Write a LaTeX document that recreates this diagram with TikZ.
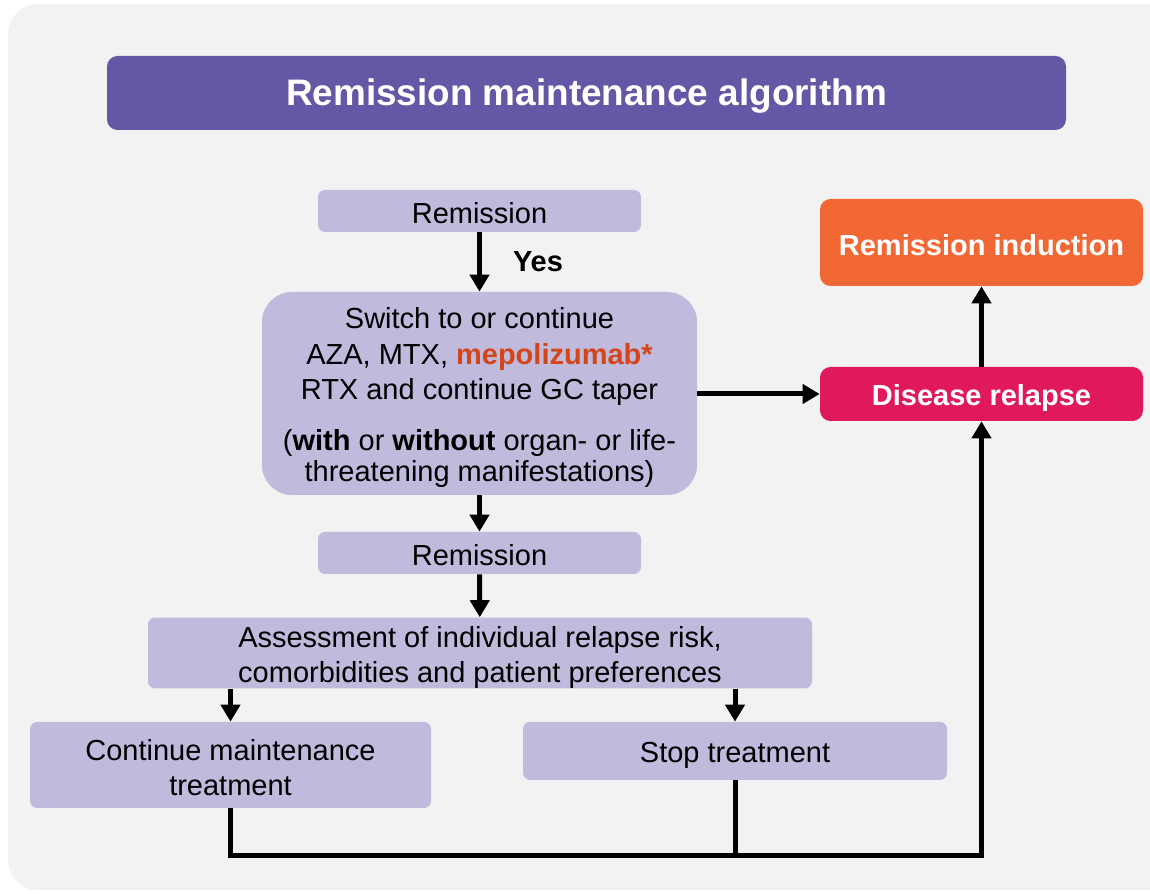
\documentclass[tikz,border=0pt]{standalone}
\usepackage{fontspec}
\setmainfont{Liberation Sans}
\usetikzlibrary{positioning, calc, arrows.meta}

\definecolor{panelgray}{HTML}{F2F2F2}
\definecolor{titlepurple}{HTML}{6657A6}
\definecolor{lavender}{HTML}{C0BADC}
\definecolor{inductorange}{HTML}{F26835}
\definecolor{relapsepink}{HTML}{E0195E}
\definecolor{drugorange}{HTML}{D4461A}

\begin{document}
\begin{tikzpicture}[
    textdrop/.style={execute at begin node={\rule{0pt}{#1}}},
    box/.style={rectangle, rounded corners=4pt, fill=lavender, align=center, inner sep=0pt, font=\fontsize{16.5}{20}\selectfont},
    alertbox/.style={rectangle, rounded corners=6pt, align=center, inner sep=0pt, minimum width=6.46cm, text=white, font=\fontsize{16.5}{20}\selectfont\bfseries},
    arrow/.style={-{Triangle[length=0.34cm, width=0.38cm]}, line width=0.1cm},
    link/.style={line width=0.1cm}
]
    \useasboundingbox (0,0) rectangle (23,17.88);

    % --- Panel ---
    \fill[panelgray, rounded corners=0.6cm] (0.16,0.08) rectangle (23.8,17.8);

    % --- Title ---
    \node[rectangle, rounded corners=6pt, fill=titlepurple, minimum width=19.18cm, minimum height=1.48cm, textdrop=19pt, text=white, font=\fontsize{21}{25}\selectfont\bfseries] (title) at (11.73,16.02) {Remission maintenance algorithm};

    % --- Main column ---
    \node[box, textdrop=14.3pt, minimum width=6.46cm, minimum height=0.84cm] (rem_a) at (9.59,13.66) {Remission};
    \node[box, rounded corners=0.6cm, minimum width=8.7cm, minimum height=4.06cm] (switch) at (9.59,10.01) {\rule{0pt}{16.7pt}Switch to or continue\\ AZA, MTX, \textcolor{drugorange}{\bfseries mepolizumab*}\\ RTX and continue GC taper\\[9pt] (\textbf{with} or \textbf{without} organ- or life-\\[-2.3pt] threatening manifestations)};
    \node[box, textdrop=14.3pt, minimum width=6.46cm, minimum height=0.84cm] (rem_b) at (9.59,6.82) {Remission};
    \node[box, minimum width=13.28cm, minimum height=1.4cm] (assess) at (9.6,4.82) {\rule{0pt}{16.9pt}Assessment of individual relapse risk,\\ comorbidities and patient preferences};
    \node[box, minimum width=8.02cm, minimum height=1.72cm] (cont) at (4.61,2.58) {\rule{0pt}{14.8pt}Continue maintenance\\ treatment};
    \node[box, textdrop=16.5pt, minimum width=8.48cm, minimum height=1.16cm] (stop) at (14.7,2.86) {Stop treatment};

    % --- Relapse branch ---
    \node[alertbox, textdrop=14.7pt, fill=inductorange, minimum height=1.74cm] (induct) at (19.63,13.03) {Remission induction};
    \node[alertbox, textdrop=16.5pt, fill=relapsepink, minimum height=1.08cm] (relapse) at (19.63,10.0) {Disease relapse};

    % --- Connectors ---
    \draw[arrow] (rem_a) -- node[right=0.62cm, inner sep=0pt, font=\fontsize{16.5}{20}\selectfont\bfseries] (yes) {Yes} (switch);
    \draw[arrow] (switch.east |- relapse.west) -- (relapse.west);
    \draw[arrow] (switch) -- (rem_b);
    \draw[arrow] (rem_b) -- (assess);
    \draw[arrow] (assess.south -| cont) -- (cont);
    \draw[arrow] (assess.south -| stop) -- (stop);
    \draw[arrow] (relapse) -- (induct);

    % back to relapse along the bottom
    \coordinate (floor) at (0,0.76);
    \draw[arrow] (cont.south) |- (floor -| relapse) -- (relapse.south);
    \draw[link] (stop.south) -- (stop.south |- floor);

\end{tikzpicture}
\end{document}
